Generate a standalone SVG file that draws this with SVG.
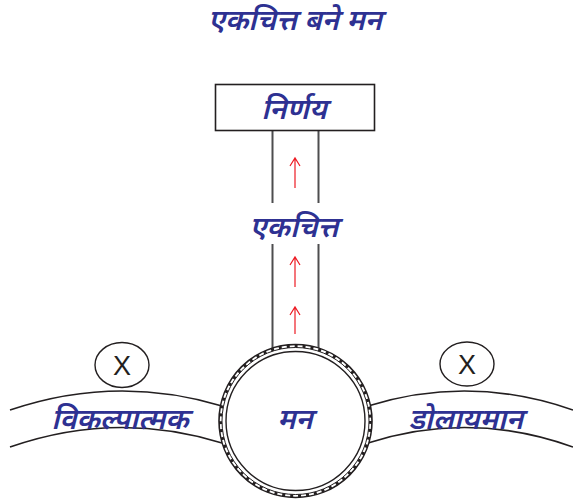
<svg xmlns="http://www.w3.org/2000/svg" width="573" height="502" viewBox="0 0 573 502">
<style>
.dv{font-family:"Noto Sans Devanagari","Noto Sans","Lohit Devanagari","FreeSans",sans-serif;fill:#2e3192;font-style:italic;font-weight:600;text-anchor:middle;font-size:29px}
.ln{fill:none;stroke:#231f20;stroke-width:1.6}
.vl{fill:none;stroke:#4d4d4f;stroke-width:2}
.ar{fill:none;stroke:#ed1c24;stroke-width:1.2}
.x{font-family:"Liberation Sans",Arial,sans-serif;font-size:27px;fill:#231f20;text-anchor:middle}
</style>
<rect width="573" height="502" fill="#fff"/>
<g id="title"><text class="dv" x="295" y="30">एकचित्त बने मन</text></g>
<g id="connectors">
<line class="vl" x1="272.5" y1="130" x2="272.5" y2="203"/>
<line class="vl" x1="318.5" y1="130" x2="318.5" y2="203"/>
<line class="vl" x1="272.5" y1="244" x2="272.5" y2="350"/>
<line class="vl" x1="318.5" y1="244" x2="318.5" y2="350"/>
<path class="ar" d="M295 188V158M290 166L295 158L300 166"/>
<path class="ar" d="M295 287V257M290 265L295 257L300 265"/>
<path class="ar" d="M295 334V307M290 315L295 307L300 315"/>
</g>
<g id="nirnay">
<rect x="215.5" y="84.5" width="159" height="46" fill="#fff" stroke="#231f20" stroke-width="1.6"/>
<text class="dv" x="294" y="119">निर्णय</text>
</g>
<g id="ekachitta"><text class="dv" x="294" y="237">एकचित्त</text></g>
<g id="left-band">
<path class="ln" d="M10 410Q116 374 222 406"/>
<path class="ln" d="M10 447Q116 410 222 443"/>
<text class="dv" x="120" y="429">विकल्पात्मक</text>
</g>
<g id="right-band">
<path class="ln" d="M368 406Q470 374 573 410"/>
<path class="ln" d="M368 443Q470 410 573 447"/>
<text class="dv" x="466" y="429">डोलायमान</text>
</g>
<g id="x-left">
<ellipse cx="122" cy="365" rx="27" ry="22.5" fill="#fff" stroke="#231f20" stroke-width="1.4"/>
<text class="x" x="122" y="375">X</text>
</g>
<g id="x-right">
<ellipse cx="467" cy="364" rx="27" ry="22" fill="#fff" stroke="#231f20" stroke-width="1.4"/>
<text class="x" x="467" y="374">X</text>
</g>
<g id="man">
<circle cx="295.5" cy="421" r="76.5" fill="#fff" stroke="#231f20" stroke-width="1.6"/>
<circle cx="295.5" cy="421" r="73.5" fill="none" stroke="#231f20" stroke-width="1"/>
<circle cx="295.5" cy="421" r="75" fill="none" stroke="#231f20" stroke-width="3" stroke-dasharray="3 5"/>
<circle cx="295.5" cy="421" r="69.5" fill="#fff" stroke="#231f20" stroke-width="1.4"/>
<text class="dv" x="295" y="429">मन</text>
</g>
</svg>
